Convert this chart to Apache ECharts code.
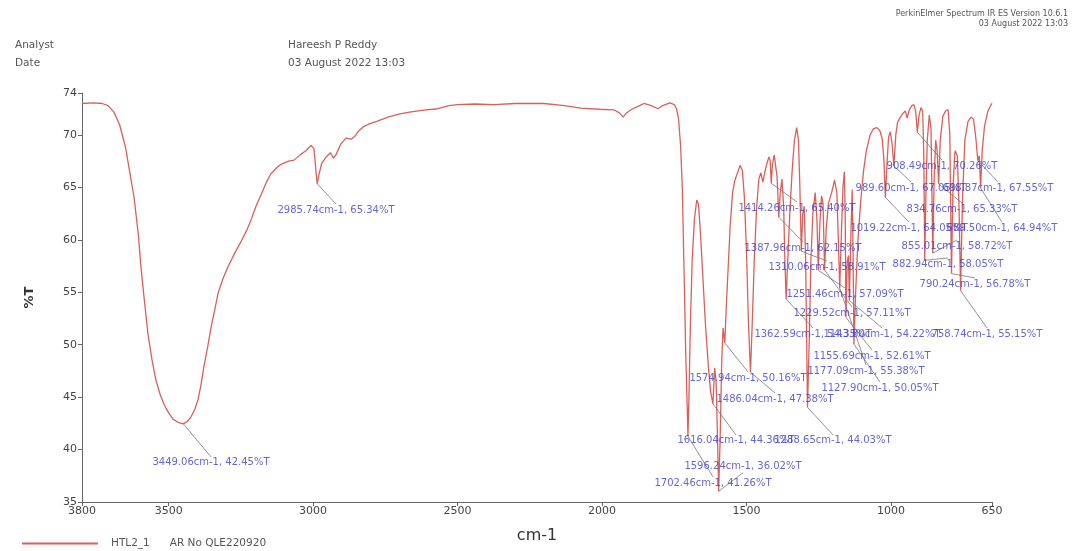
<!DOCTYPE html>
<html>
<head>
<meta charset="utf-8">
<script src="https://cdn.jsdelivr.net/npm/echarts@6.0.0/dist/echarts.min.js"></script>
<style>
  html, body { margin: 0; padding: 0; background: #fff; }
  #main { width: 1080px; height: 551px; }
</style>
</head>
<body>
<div id="main"></div>
<script>
// spectrum (cm-1 / %T)
var wavenumber = [
  3800, 3760, 3730, 3710, 3690, 3670, 3650, 3635, 3620, 3605, 3596, 3584, 3572, 3558, 3544, 3530, 3516, 3500, 3485, 3468,
  3449.06, 3435, 3423, 3410, 3398, 3388, 3378, 3365, 3353, 3340, 3329, 3312, 3295, 3270, 3250, 3230, 3215, 3195, 3180, 3160,
  3146, 3125, 3111, 3085, 3066, 3045, 3025, 3007, 2997, 2991, 2985.74, 2980, 2970, 2955, 2940, 2930, 2921, 2905, 2886, 2868,
  2855, 2845, 2825, 2810, 2780, 2741, 2700, 2661, 2610, 2568, 2530, 2499, 2440, 2374, 2300, 2201, 2130, 2073, 2010, 1959,
  1940, 1927, 1915, 1900, 1870, 1855, 1830, 1806, 1790, 1765, 1750, 1742, 1735, 1728, 1722, 1716, 1710, 1705, 1702.46, 1699,
  1694, 1688, 1680, 1672, 1666, 1660, 1652, 1642, 1632, 1624, 1616.04, 1610, 1605, 1600, 1596.24, 1591, 1586, 1581, 1574.94, 1570,
  1563, 1556, 1548, 1540, 1532, 1522, 1514, 1507, 1500, 1493, 1486.04, 1480, 1473, 1465, 1457, 1450, 1443, 1436, 1429, 1422,
  1418, 1414.26, 1410, 1404, 1399, 1394, 1387.96, 1383, 1377, 1371, 1367, 1362.59, 1357, 1350, 1342, 1334, 1326, 1320, 1315, 1310.06,
  1305, 1300, 1295, 1288.65, 1283, 1277, 1270, 1262, 1256, 1251.46, 1246, 1240, 1235, 1229.52, 1224, 1216, 1205, 1195, 1187, 1182,
  1177.09, 1172, 1166, 1161, 1158, 1155.69, 1151, 1147, 1143.8, 1139, 1134, 1131, 1127.9, 1122, 1114, 1105, 1095, 1085, 1072, 1060,
  1048, 1038, 1030, 1024, 1019.22, 1014, 1008, 1002, 996, 989.6, 983, 977, 969, 960, 950, 944, 936, 927, 920, 914,
  908.49, 903, 896, 890, 886, 882.94, 879, 874, 867, 861, 855.01, 850, 845, 840, 834.76, 829, 820, 810, 802, 796,
  790.24, 785, 778, 770, 764, 758.74, 752, 744, 733, 722, 714, 707, 703, 698.87, 694, 689.5, 684, 676, 665, 655, 650
];
var transmittance = [
  73.0, 73.05, 73.0, 72.8, 72.2, 71.0, 68.9, 66.5, 64.1, 60.5, 57.4, 54.2, 51.1, 48.6, 46.6, 45.3, 44.3, 43.5, 42.9, 42.6,
  42.45, 42.7, 43.1, 43.8, 44.8, 46.2, 47.9, 49.8, 51.7, 53.4, 54.9, 56.3, 57.4, 58.8, 59.8, 60.9, 61.9, 63.4, 64.3, 65.6,
  66.3, 66.9, 67.2, 67.5, 67.6, 68.1, 68.5, 69.0, 68.7, 66.8, 65.34, 66.2, 67.3, 67.9, 68.3, 67.8, 68.1, 69.1, 69.7, 69.6,
  69.9, 70.3, 70.8, 71.0, 71.3, 71.7, 72.0, 72.2, 72.4, 72.5, 72.8, 72.9, 72.95, 72.9, 73.0, 73.0, 72.8, 72.55, 72.45, 72.4,
  72.1, 71.7, 72.1, 72.4, 72.8, 73.0, 72.8, 72.5, 72.8, 73.05, 72.9, 72.5, 71.5, 69.0, 65.0, 57.0, 49.0, 44.0, 41.26, 45.0,
  52.0, 58.0, 62.0, 63.8, 63.4, 61.0, 57.0, 52.0, 48.0, 45.5, 44.36, 47.8, 46.5, 41.0, 36.02, 41.0, 48.0, 51.6, 50.16, 53.5,
  57.5, 61.5, 64.5, 65.7, 66.3, 67.1, 66.6, 64.0, 59.0, 52.0, 47.38, 52.0, 58.0, 63.0, 65.8, 66.4, 65.5, 66.5, 67.3, 67.9,
  67.6, 65.4, 67.2, 68.1, 68.0, 66.0, 62.15, 64.5, 65.8, 63.0, 58.0, 54.35, 58.0, 62.5, 66.5, 69.5, 70.7, 69.5, 65.0, 58.91,
  62.5, 63.2, 58.0, 44.03, 50.0, 58.0, 62.5, 64.5, 62.0, 57.09, 61.5, 64.2, 63.5, 57.11, 61.0, 63.5, 64.5, 65.7, 64.5, 60.0,
  55.38, 60.0, 65.0, 66.5, 62.0, 52.61, 58.0, 58.5, 54.22, 60.0, 64.8, 59.0, 50.05, 55.0, 60.0, 63.5, 66.5, 68.5, 70.0, 70.6,
  70.7, 70.4, 69.6, 67.5, 64.05, 67.0, 69.8, 70.3, 69.2, 67.05, 70.0, 71.2, 71.6, 72.0, 72.3, 71.6, 72.4, 72.8, 72.9, 72.2,
  70.26, 71.8, 72.6, 72.3, 68.0, 58.05, 64.0, 69.5, 71.9, 70.5, 58.72, 66.0, 69.5, 68.5, 65.33, 69.5, 71.8, 72.3, 72.4, 70.0,
  56.78, 65.0, 68.5, 68.0, 63.0, 55.15, 64.0, 69.5, 71.3, 71.7, 71.5, 70.0, 68.8, 67.55, 68.0, 64.94, 68.5, 70.8, 72.2, 72.8, 73.0
];

// peak picks: position, value, text
var peakWn = [3449.06, 2985.74, 1414.26, 1387.96, 1310.06, 1251.46, 1229.52, 1362.59, 1143.8, 758.74,
  1155.69, 1177.09, 1127.9, 1574.94, 1486.04, 1616.04, 1288.65, 1596.24, 1702.46,
  908.49, 989.6, 698.87, 834.76, 1019.22, 689.5, 855.01, 882.94, 790.24];
var peakT = [42.45, 65.34, 65.40, 62.15, 58.91, 57.09, 57.11, 54.35, 54.22, 55.15,
  52.61, 55.38, 50.05, 50.16, 47.38, 44.36, 44.03, 36.02, 41.26,
  70.26, 67.05, 67.55, 65.33, 64.05, 64.94, 58.72, 58.05, 56.78];
var peakText = [
  '3449.06cm-1, 42.45%T', '2985.74cm-1, 65.34%T', '1414.26cm-1, 65.40%T', '1387.96cm-1, 62.15%T',
  '1310.06cm-1, 58.91%T', '1251.46cm-1, 57.09%T', '1229.52cm-1, 57.11%T', '1362.59cm-1, 54.35%T',
  '1143.80cm-1, 54.22%T', '758.74cm-1, 55.15%T', '1155.69cm-1, 52.61%T', '1177.09cm-1, 55.38%T',
  '1127.90cm-1, 50.05%T', '1574.94cm-1, 50.16%T', '1486.04cm-1, 47.38%T', '1616.04cm-1, 44.36%T',
  '1288.65cm-1, 44.03%T', '1596.24cm-1, 36.02%T', '1702.46cm-1, 41.26%T',
  '908.49cm-1, 70.26%T', '989.60cm-1, 67.05%T', '698.87cm-1, 67.55%T', '834.76cm-1, 65.33%T',
  '1019.22cm-1, 64.05%T', '689.50cm-1, 64.94%T', '855.01cm-1, 58.72%T', '882.94cm-1, 58.05%T',
  '790.24cm-1, 56.78%T'
];

var xTicks = [3800, 3500, 3000, 2500, 2000, 1500, 1000, 650];
var yTicks = [35, 40, 45, 50, 55, 60, 65, 70, 74];

// where each peak label sits (axis units), and which side of the text the leader meets
var labelSpots = [
  [3353.5, 39.3, 'bottom'], [2920.8, 63.42, 'bottom'], [1325.1, 63.61, 'bottom'], [1304.3, 59.8, 'bottom'],
  [1221.3, 57.98, 'bottom'], [1159.0, 55.41, 'bottom'], [1134.7, 53.6, 'bottom'], [1269.7, 51.6, 'bottom'],
  [1030.8, 51.6, 'bottom'], [667.4, 51.6, 'bottom'], [1065.5, 49.5, 'bottom'], [1086.3, 48.07, 'bottom'],
  [1037.8, 46.45, 'bottom'], [1494.7, 47.4, 'bottom'], [1401.2, 45.4, 'bottom'], [1536.2, 41.4, 'bottom'],
  [1200.5, 41.4, 'bottom'], [1512.0, 37.78, 'top'], [1615.8, 37.39, 'bottom'],
  [823.2, 67.61, 'bottom'], [930.5, 65.52, 'bottom'], [629.4, 65.52, 'bottom'], [754.0, 63.51, 'bottom'],
  [937.4, 61.7, 'bottom'], [615.5, 61.7, 'bottom'], [771.3, 59.99, 'bottom'], [802.4, 58.27, 'bottom'],
  [709.0, 56.36, 'bottom']
];

var spectrum = wavenumber.map(function (w, i) { return [w, transmittance[i]]; });
var leaders = peakWn.map(function (w, i) {
  return { coords: [[w, peakT[i]], [labelSpots[i][0], labelSpots[i][1]]] };
});
var tags = peakWn.map(function (w, i) {
  return {
    value: [labelSpots[i][0], labelSpots[i][1], peakText[i]],
    label: { position: labelSpots[i][2] }
  };
});

var font = 'DejaVu Sans';
var headStyle = { fontSize: 10.5, fontWeight: 'normal', color: '#555', fontFamily: font };
var smallStyle = { fontSize: 8, fontWeight: 'normal', color: '#555', fontFamily: font };

var myChart = echarts.init(document.getElementById('main'));
myChart.setOption({
  animation: false,
  backgroundColor: '#fff',
  title: [
    { text: 'Analyst', left: 15, top: 40, padding: 0, textStyle: headStyle },
    { text: 'Date', left: 15, top: 58, padding: 0, textStyle: headStyle },
    { text: 'Hareesh P Reddy', left: 288, top: 40, padding: 0, textStyle: headStyle },
    { text: '03 August 2022 13:03', left: 288, top: 58, padding: 0, textStyle: headStyle },
    { text: 'PerkinElmer Spectrum IR ES Version 10.6.1', right: 12, top: 10, padding: 0, textStyle: smallStyle },
    { text: '03 August 2022 13:03', right: 12, top: 20, padding: 0, textStyle: smallStyle }
  ],
  legend: {
    data: ['HTL2_1'],
    left: 22,
    top: 538,
    padding: 0,
    icon: 'rect',
    itemWidth: 76,
    itemHeight: 2,
    formatter: function (name) { return name + '      AR No QLE220920'; },
    textStyle: { fontSize: 10.5, color: '#555', fontFamily: font, padding: [0, 0, 0, 8] }
  },
  grid: { left: 82, right: 88, top: 93, bottom: 49 },
  xAxis: {
    type: 'value',
    inverse: true,
    min: 650,
    max: 3800,
    name: 'cm-1',
    nameLocation: 'middle',
    nameGap: 26,
    nameTextStyle: { fontSize: 16, color: '#333', fontFamily: font },
    axisLine: { lineStyle: { color: '#666' } },
    axisTick: { customValues: xTicks, length: 4, lineStyle: { color: '#666' } },
    axisLabel: {
      customValues: xTicks,
      formatter: function (v) { return String(v); },
      fontSize: 11, color: '#444', fontFamily: font, margin: 4
    },
    splitLine: { show: false }
  },
  yAxis: {
    type: 'value',
    min: 35,
    max: 74,
    name: '%T',
    nameLocation: 'middle',
    nameGap: 46,
    nameRotate: 90,
    nameTextStyle: { fontSize: 13, fontWeight: 'bold', color: '#333', fontFamily: font },
    axisLine: { show: true, lineStyle: { color: '#666' } },
    axisTick: { show: true, customValues: yTicks, length: 4, lineStyle: { color: '#666' } },
    axisLabel: { customValues: yTicks, fontSize: 11, color: '#444', fontFamily: font, margin: 5 },
    splitLine: { show: false }
  },
  series: [
    {
      name: 'HTL2_1',
      type: 'line',
      data: spectrum,
      showSymbol: false,
      symbol: 'none',
      color: '#d9605a',
      lineStyle: { width: 1.3, color: '#d9605a' },
      z: 3
    },
    {
      type: 'lines',
      coordinateSystem: 'cartesian2d',
      data: leaders,
      clip: false,
      silent: true,
      lineStyle: { color: '#77778a', width: 0.9, opacity: 0.9 },
      z: 4
    },
    {
      type: 'scatter',
      data: tags,
      symbolSize: 0,
      clip: false,
      silent: true,
      label: {
        show: true,
        distance: 1,
        formatter: function (p) { return p.value[2]; },
        color: '#4040c8',
        fontSize: 10,
        fontFamily: font
      },
      z: 5
    }
  ]
});
</script>
</body>
</html>
